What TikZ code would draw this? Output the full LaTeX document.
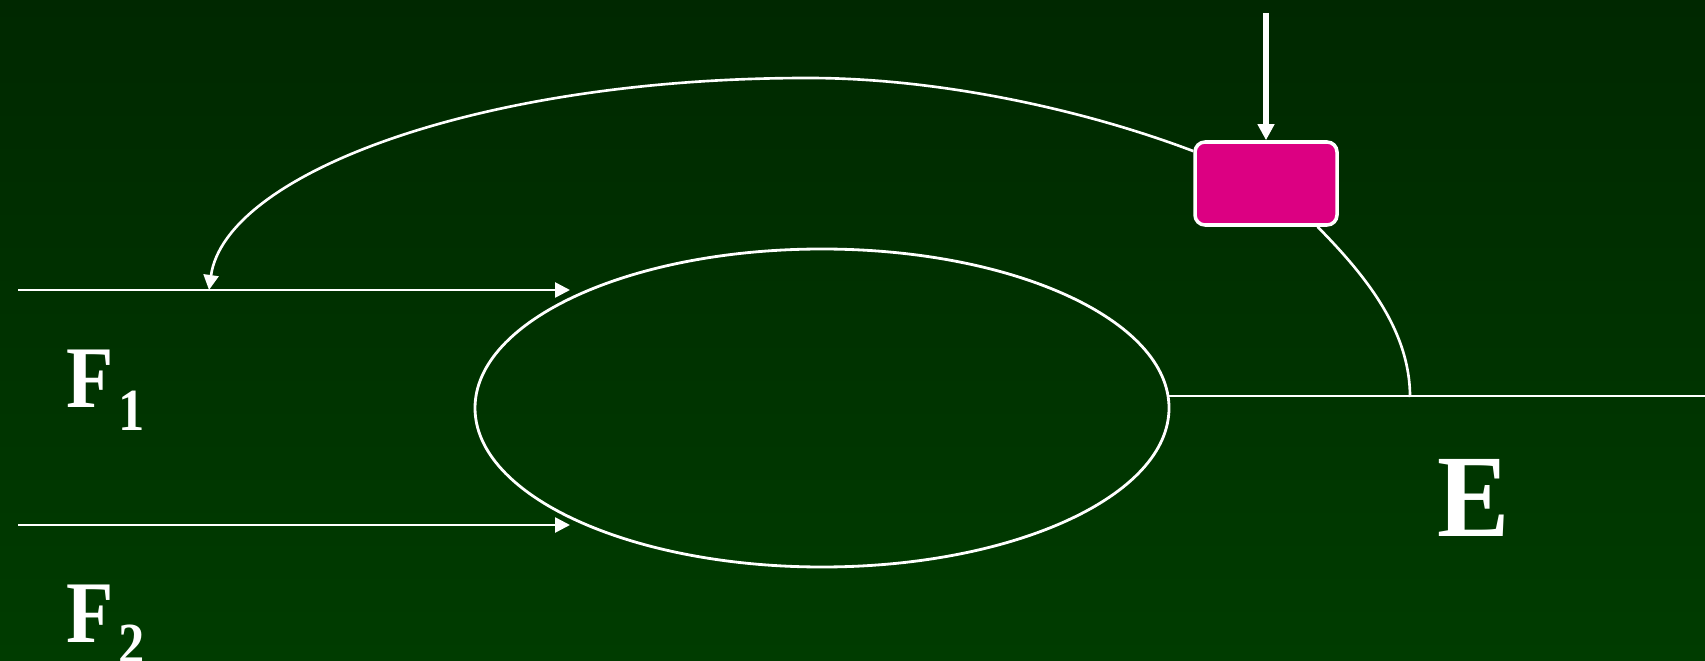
\documentclass[tikz,border=0pt]{standalone}
\usepackage{fontspec}
\setmainfont{Liberation Serif}
\usetikzlibrary{shapes.geometric,arrows.meta,positioning}
\definecolor{bgtop}{RGB}{0,40,0}
\definecolor{bgbottom}{RGB}{0,60,0}
\definecolor{ctrlpink}{RGB}{220,0,130}

\begin{document}
\begin{tikzpicture}[x=0.1mm, y=-0.1mm,
  wire/.style={draw=white, line width=0.75pt},
  arr/.style={wire, -{Triangle[length=1.5mm, width=1.5mm]}},
  lbl/.style={text=white, inner sep=0pt, anchor=base west}
]
\clip (0,0) rectangle (1705,661);
\shade[top color=bgtop, bottom color=bgbottom] (0,0) rectangle (1705,661);

\node[ellipse, draw=white, line width=0.8pt, minimum width=69.4mm, minimum height=31.8mm, inner sep=0pt] (tank) at (822,408) {};
\node[rectangle, rounded corners=1mm, draw=white, line width=1pt, fill=ctrlpink, minimum width=14.2mm, minimum height=8.3mm] (ctrl) at (1266,183.5) {};

\coordinate (f1in) at (18,290);
\coordinate (f1out) at (570,290);
\coordinate (tap) at (209,290);
\coordinate (f2in) at (18,525);
\coordinate (f2out) at (570,525);
\coordinate (setin) at (1266,13);
\coordinate (meas) at (1410,397);
\coordinate (eout) at (1705,397);

\draw[arr] (f1in) -- (f1out);
\draw[arr] (f2in) -- (f2out);
\draw[wire] (tank.2) -- (tank.2 -| eout);
\draw[wire] (ctrl.-40) .. controls (1365,275) and (1410,330) .. (meas);
\draw[arr] (ctrl.156) .. controls (1085,110) and (940,78) .. (808,78) .. controls (476,78) and (225,175) .. (tap);
\draw[wire, line width=1.6pt, -{Triangle[length=1.6mm, width=1.6mm]}] (setin) -- (ctrl.north);

\node[lbl, xscale=0.88, font=\bfseries\fontsize{25}{30}\selectfont] (f1lbl) at (66,408) {F\hspace{1.5pt}\raisebox{-6.3pt}{\fontsize{17}{20}\selectfont 1}};
\node[lbl, xscale=0.88, font=\bfseries\fontsize{25}{30}\selectfont] (f2lbl) at (66,642) {F\hspace{1.5pt}\raisebox{-6.3pt}{\fontsize{17}{20}\selectfont 2}};
\node[lbl, xscale=0.92, font=\bfseries\fontsize{33.5}{40}\selectfont] (elbl) at (1437,536) {E};
\end{tikzpicture}
\end{document}
